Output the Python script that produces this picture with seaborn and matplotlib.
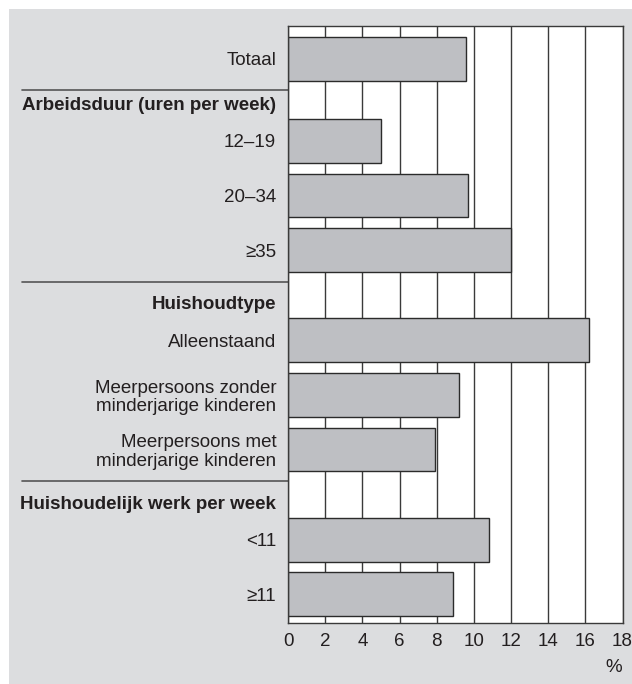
import matplotlib
matplotlib.use("Agg")
import matplotlib.pyplot as plt
import matplotlib.transforms as mtransforms
from matplotlib.patches import Rectangle
import numpy as np
import pandas as pd
import seaborn as sns

# data
labels = [
    "Totaal",
    "12–19",
    "20–34",
    "≥35",
    "Alleenstaand",
    "Meerpersoons zonder\nminderjarige kinderen",
    "Meerpersoons met\nminderjarige kinderen",
    "<11",
    "≥11",
]
values = [9.6, 5.0, 9.7, 12.0, 16.2, 9.2, 7.9, 10.8, 8.9]
group_titles = [None, "Arbeidsduur (uren per week)", "Huishoudtype", "Huishoudelijk werk per week"]
group_sizes = [1, 3, 3, 2]
x_ticks = [0, 2, 4, 6, 8, 10, 12, 14, 16, 18]

# layout: extra space before each group (in bar slots)
group_gaps = [0.0, 1.5, 1.65, 1.65]

BG = "#dcdddf"
BAR = "#bebfc3"
INK = "#231f20"
LINE = "#3a3a3a"
FS = 13.5

sns.set_theme(style="white")
plt.rcParams["font.family"] = ["Liberation Sans", "DejaVu Sans"]
plt.rcParams["font.size"] = FS
plt.rcParams["text.color"] = INK

positions = []
group_first = []
group_last = []
pos = 0.0
for gi, size in enumerate(group_sizes):
    if gi > 0:
        pos = positions[-1] + group_gaps[gi]
    group_first.append(pos)
    for k in range(size):
        positions.append(pos + k)
    group_last.append(positions[-1])

df = pd.DataFrame({"label": labels, "value": values, "pos": positions})

fig = plt.figure(figsize=(6.32, 6.84), dpi=100)
fig.patch.set_facecolor("white")
fig.patches.append(
    Rectangle((9 / 632, 0), 1 - 9 / 632, 1 - 9 / 684, transform=fig.transFigure,
              facecolor=BG, edgecolor="none", zorder=-10)
)

ax = fig.add_axes([288 / 632, 1 - 622.7 / 684, 334.5 / 632, (622.7 - 26) / 684])
ax.set_facecolor("white")

for xv in x_ticks:
    ax.axvline(xv, color=LINE, linewidth=1.0, zorder=0)

sns.barplot(data=df, x="value", y="pos", orient="y", native_scale=True,
            width=0.8, color=BAR, saturation=1, edgecolor="#2b2b2b",
            linewidth=1.0, errorbar=None, ax=ax, zorder=2)

ax.set_xlim(0, 18)
ax.set_ylim(positions[-1] + 0.52, -0.6)
ax.set_xticks(x_ticks)
ax.set_xticklabels([str(t) for t in x_ticks])
ax.set_yticks(positions)
ax.set_yticklabels(labels, linespacing=1.1)
ax.tick_params(axis="both", length=0, colors=INK, labelsize=FS)
ax.tick_params(axis="y", pad=8.5)
ax.tick_params(axis="x", pad=7.5)
ax.set_xlabel("")
ax.set_ylabel("")
for side in ["left", "right", "top", "bottom"]:
    ax.spines[side].set_visible(True)
    ax.spines[side].set_color(LINE)
    ax.spines[side].set_linewidth(1.0)

# group headers and separators in the label area
trans = mtransforms.blended_transform_factory(ax.transAxes, ax.transData)
left_frac = (22 - 288) / 334.5
for gi in range(1, len(group_sizes)):
    sep_y = group_last[gi - 1] + 0.58
    ax.plot([left_frac, 0], [sep_y, sep_y], transform=trans, color="#555555",
            linewidth=1.2, clip_on=False)
    ax.text(-12 / 334.5, group_first[gi] - 0.65, group_titles[gi], transform=trans,
            ha="right", va="center", fontweight="bold", fontsize=FS, color=INK)

ax.text(1.0, -0.075, "%", transform=ax.transAxes, ha="right", va="center",
        fontsize=FS, color=INK)

fig.savefig("out.png", dpi=100, facecolor=fig.get_facecolor())
